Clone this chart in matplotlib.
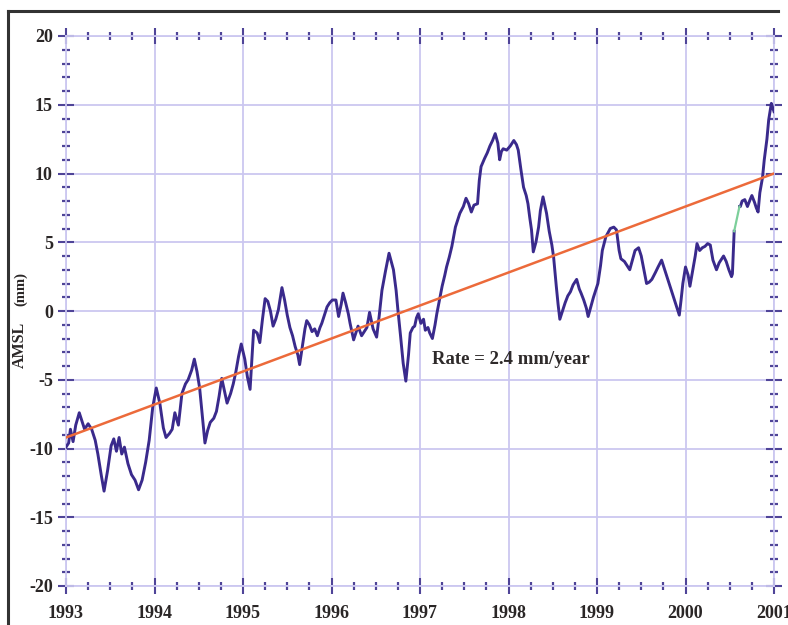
import numpy as np
import matplotlib.pyplot as plt
from matplotlib.ticker import MultipleLocator, FixedLocator
from matplotlib.lines import Line2D

plt.rcParams['axes.unicode_minus'] = False
plt.rcParams['font.family'] = ['Liberation Serif', 'DejaVu Serif']

# mean sea level anomaly, mm (decimal year, value)
years = [
    1993.00, 1993.03, 1993.05, 1993.08, 1993.11, 1993.15, 1993.18, 1993.21, 1993.25, 1993.29,
    1993.33, 1993.36, 1993.40, 1993.43, 1993.47, 1993.51, 1993.54, 1993.57, 1993.60, 1993.63,
    1993.66, 1993.70, 1993.74, 1993.78, 1993.82, 1993.86, 1993.90, 1993.94, 1993.98, 1994.02,
    1994.06, 1994.10, 1994.13, 1994.17, 1994.20, 1994.23, 1994.27, 1994.31, 1994.35, 1994.38,
    1994.42, 1994.45, 1994.48, 1994.51, 1994.54, 1994.57, 1994.60, 1994.63, 1994.67, 1994.70,
    1994.73, 1994.76, 1994.79, 1994.82, 1994.86, 1994.89, 1994.92, 1994.95, 1994.98, 1995.02,
    1995.05, 1995.08, 1995.10, 1995.12, 1995.16, 1995.19, 1995.22, 1995.25, 1995.28, 1995.31,
    1995.34, 1995.37, 1995.40, 1995.44, 1995.47, 1995.50, 1995.53, 1995.56, 1995.59, 1995.62,
    1995.64, 1995.67, 1995.70, 1995.72, 1995.75, 1995.78, 1995.81, 1995.84, 1995.87, 1995.89,
    1995.92, 1995.95, 1995.98, 1996.01, 1996.05, 1996.08, 1996.11, 1996.13, 1996.16, 1996.19,
    1996.21, 1996.25, 1996.28, 1996.30, 1996.34, 1996.37, 1996.40, 1996.43, 1996.47, 1996.51,
    1996.54, 1996.57, 1996.61, 1996.65, 1996.70, 1996.73, 1996.75, 1996.78, 1996.81, 1996.84,
    1996.87, 1996.89, 1996.92, 1996.94, 1996.96, 1996.98, 1997.01, 1997.04, 1997.06, 1997.09,
    1997.11, 1997.14, 1997.17, 1997.19, 1997.22, 1997.25, 1997.28, 1997.30, 1997.33, 1997.36,
    1997.40, 1997.43, 1997.45, 1997.49, 1997.52, 1997.55, 1997.58, 1997.61, 1997.65, 1997.67,
    1997.69, 1997.73, 1997.76, 1997.79, 1997.82, 1997.85, 1997.88, 1997.90, 1997.92, 1997.94,
    1997.98, 1998.02, 1998.06, 1998.09, 1998.11, 1998.14, 1998.17, 1998.20, 1998.22, 1998.24,
    1998.26, 1998.28, 1998.31, 1998.34, 1998.36, 1998.39, 1998.43, 1998.46, 1998.49, 1998.51,
    1998.54, 1998.56, 1998.58, 1998.61, 1998.64, 1998.67, 1998.70, 1998.73, 1998.77, 1998.80,
    1998.82, 1998.85, 1998.88, 1998.90, 1998.93, 1998.96, 1999.01, 1999.04, 1999.06, 1999.10,
    1999.15, 1999.19, 1999.22, 1999.25, 1999.27, 1999.31, 1999.34, 1999.37, 1999.40, 1999.43,
    1999.47, 1999.50, 1999.53, 1999.56, 1999.59, 1999.62, 1999.66, 1999.69, 1999.73, 1999.76,
    1999.79, 1999.84, 1999.87, 1999.90, 1999.93, 1999.95, 1999.97, 2000.00, 2000.03, 2000.05,
    2000.08, 2000.11, 2000.13, 2000.16, 2000.19, 2000.22, 2000.25, 2000.28, 2000.31, 2000.35,
    2000.38, 2000.43, 2000.46, 2000.49, 2000.52, 2000.53, 2000.55, 2000.61, 2000.62, 2000.64,
    2000.67, 2000.70, 2000.73, 2000.75, 2000.78, 2000.80, 2000.82, 2000.84, 2000.87, 2000.89,
    2000.92, 2000.94, 2000.97, 2000.99, 2001.00,
]
amsl = [
    -9.9, -9.6, -8.6, -9.5, -8.3, -7.4, -8.0, -8.6, -8.2, -8.6,
    -9.4, -10.4, -12.0, -13.1, -11.6, -9.8, -9.3, -10.2, -9.2, -10.4,
    -9.9, -11.1, -11.9, -12.3, -13.0, -12.3, -11.0, -9.4, -7.0, -5.6,
    -6.7, -8.5, -9.2, -8.9, -8.6, -7.4, -8.3, -6.0, -5.3, -5.0,
    -4.3, -3.5, -4.4, -5.6, -7.6, -9.6, -8.7, -8.1, -7.8, -7.3,
    -6.2, -4.9, -5.8, -6.7, -6.0, -5.3, -4.4, -3.3, -2.4, -3.5,
    -4.8, -5.7, -3.5, -1.4, -1.6, -2.3, -0.6, 0.9, 0.7, 0.0,
    -1.1, -0.6, 0.1, 1.7, 0.8, -0.3, -1.2, -1.8, -2.6, -3.2,
    -3.9, -2.6, -1.3, -0.7, -1.0, -1.5, -1.3, -1.8, -1.2, -0.9,
    -0.3, 0.3, 0.6, 0.8, 0.8, -0.4, 0.5, 1.3, 0.6, -0.2,
    -0.9, -2.1, -1.5, -1.1, -1.8, -1.5, -1.2, -0.1, -1.3, -1.9,
    -0.3, 1.5, 2.9, 4.2, 3.0, 1.5, 0.1, -1.8, -3.8, -5.1,
    -3.2, -1.6, -1.2, -1.1, -0.5, -0.2, -0.9, -0.6, -1.4, -1.2,
    -1.6, -2.0, -1.0, -0.2, 0.8, 1.8, 2.6, 3.2, 3.9, 4.7,
    6.1, 6.7, 7.1, 7.6, 8.2, 7.8, 7.2, 7.7, 7.8, 9.5,
    10.5, 11.1, 11.5, 12.0, 12.4, 12.9, 12.2, 11.0, 11.6, 11.8,
    11.7, 12.0, 12.4, 12.1, 11.7, 10.3, 9.0, 8.4, 7.8, 6.8,
    5.9, 4.3, 5.0, 6.1, 7.3, 8.3, 7.1, 5.8, 4.8, 3.9,
    1.8, 0.5, -0.6, 0.0, 0.6, 1.1, 1.4, 1.9, 2.3, 1.6,
    1.3, 0.8, 0.2, -0.4, 0.3, 1.0, 2.0, 3.3, 4.4, 5.4,
    6.0, 6.1, 5.9, 4.4, 3.8, 3.6, 3.3, 3.0, 3.7, 4.4,
    4.6, 4.0, 3.0, 2.0, 2.1, 2.3, 2.8, 3.2, 3.7, 3.1,
    2.5, 1.5, 0.9, 0.3, -0.3, 0.8, 2.0, 3.2, 2.6, 1.8,
    2.9, 4.0, 4.9, 4.4, 4.6, 4.7, 4.9, 4.8, 3.7, 3.0,
    3.5, 4.0, 3.6, 3.0, 2.5, 2.7, 5.8, 7.6, 7.6, 8.0,
    8.1, 7.6, 8.1, 8.4, 7.9, 7.5, 7.2, 8.6, 9.7, 11.0,
    12.5, 13.9, 15.1, 14.7, 14.5,
]

# interval with missing data, bridged by a straight segment
gap_start, gap_end = 2000.55, 2000.61

rate = 2.4          # mm/year
trend_1997 = 0.4    # trend value at 1997.0, mm

year_ticks = list(range(1993, 2002))
amsl_ticks = list(range(-20, 21, 5))

years = np.array(years)
amsl = np.array(amsl)

fig = plt.figure(figsize=(7.88, 6.25), dpi=100)
ax = fig.add_axes([66 / 788, 1 - 586 / 625, 708 / 788, 550 / 625])

grid_col = '#cbc7f0'
tick_col = '#4f4498'
line_col = '#3a2a8c'

before = years <= gap_start
after = years >= gap_end
bridge = (years >= gap_start) & (years <= gap_end)
ax.plot(years[before], amsl[before], color=line_col, lw=2.1, zorder=3)
ax.plot(years[after], amsl[after], color=line_col, lw=2.1, zorder=3)
ax.plot(years[bridge], amsl[bridge], color='#7ccf9a', lw=1.6, zorder=3)

tx = np.array([1993.0, 2001.0])
ax.plot(tx, trend_1997 + rate * (tx - 1997), color='#ec6a3a', lw=1.8, zorder=4)

ax.text(1997.14, -3.55, 'Rate = %.1f mm/year' % rate, fontsize=13.5, fontweight='bold',
        color='#2e2a2a', va='center', ha='left')

ax.set_xlim(1993, 2001)
ax.set_ylim(-20, 20)
ax.xaxis.set_major_locator(FixedLocator(year_ticks))
ax.yaxis.set_major_locator(FixedLocator(amsl_ticks))
ax.xaxis.set_minor_locator(MultipleLocator(0.25))
ax.yaxis.set_minor_locator(MultipleLocator(1))
ax.set_xticklabels([str(y) for y in year_ticks])
ax.set_yticklabels([str(v) for v in amsl_ticks])

ax.grid(True, which='major', color=grid_col, lw=1.3)
for s in ax.spines.values():
    s.set_color(grid_col)
    s.set_linewidth(1.3)

ax.tick_params(which='both', direction='inout', color=tick_col, top=True, right=True)
ax.tick_params(which='major', length=11, width=1.5)
ax.tick_params(which='minor', length=6, width=1.6)
ax.tick_params(axis='x', which='major', pad=8, labelsize=13, labelcolor='#2a2626')
ax.tick_params(axis='y', which='major', pad=4, labelsize=13, labelcolor='#2a2626')
for lab in ax.get_xticklabels() + ax.get_yticklabels():
    lab.set_fontweight('bold')

fig.text(20 / 788, 1 - 345 / 625, 'AMSL', rotation=90, fontsize=11.5, fontweight='bold',
         color='#2a2626', ha='center', va='center')
fig.text(21 / 788, 1 - 289 / 625, '(mm)', rotation=90, fontsize=10.5, fontweight='bold',
         color='#2a2626', ha='center', va='center')

# outer frame edges
fig.add_artist(Line2D([8 / 788, 8 / 788], [0, 1 - 11 / 625], color='#333333', lw=2.2))
fig.add_artist(Line2D([8 / 788, 778 / 788], [1 - 11 / 625, 1 - 11 / 625], color='#333333', lw=2.2))

fig.savefig('out.png', dpi=100)
